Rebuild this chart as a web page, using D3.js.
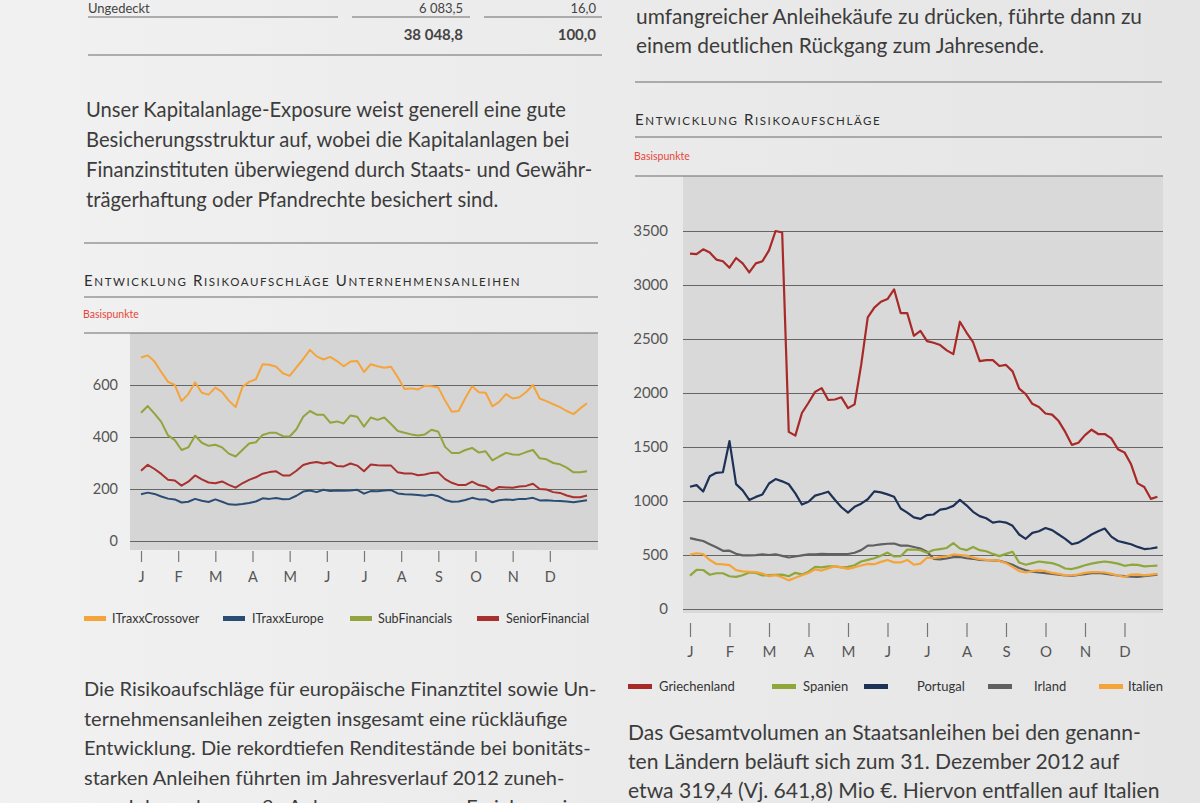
<!DOCTYPE html>
<html>
<head>
<meta charset="utf-8">
<title>Entwicklung Risikoaufschläge</title>
<script src="https://d3js.org/d3.v7.min.js"></script>
<style>
  body { margin: 0; background: #ebebeb; }
  svg { display: block; }
  text { font-family: Lato, "Open Sans", sans-serif; }
</style>
</head>
<body>
<script>

var W = 1200, H = 803;

// Monatsachse (beide Grafiken)
var months = ['J', 'F', 'M', 'A', 'M', 'J', 'J', 'A', 'S', 'O', 'N', 'D'];

// --- Unternehmensanleihen (Basispunkte), 67 Werte ueber 12 Monate
var corpTicks = [0, 200, 400, 600];
var itraxxCrossover = [706,714,690,650,612,600,538,565,610,570,563,590,573,540,515,592,612,622,680,678,
  670,645,635,668,700,735,710,698,708,692,672,690,692,650,680,672,666,670,630,585,
  587,583,597,595,590,540,497,500,550,595,572,570,518,535,565,548,553,573,600,548,
  538,526,515,500,488,510,530];
var itraxxEurope = [180,186,181,171,163,160,148,151,162,155,150,160,151,141,139,142,146,152,164,162,
  165,161,162,174,190,194,188,197,192,194,193,194,197,182,192,191,194,196,183,180,
  179,177,174,178,172,158,151,152,158,166,160,160,149,157,160,158,162,162,166,156,
  157,155,154,152,149,153,157];
var subFinancials = [493,519,490,458,406,388,350,360,405,378,366,370,360,336,325,350,375,380,408,416,
  416,403,402,430,478,500,486,486,455,460,452,483,478,440,475,466,475,450,423,416,
  410,406,410,428,420,362,338,338,350,358,340,345,310,325,339,333,332,342,350,318,
  314,300,295,282,264,264,268];
var seniorFinancial = [270,293,277,258,236,233,213,228,252,237,225,222,229,216,205,222,235,245,259,265,
  268,252,252,270,292,300,304,298,303,288,287,298,290,268,294,291,290,290,264,260,
  260,253,256,262,263,238,224,215,215,228,215,210,193,208,206,205,210,212,220,200,
  198,188,185,175,168,168,175];

// --- Staatsanleihen (Basispunkte), 72 Werte im Abstand von 1/6 Monat
var govTicks = [0, 500, 1000, 1500, 2000, 2500, 3000, 3500];
var griechenland = [3290,3285,3330,3300,3235,3220,3160,3250,3200,3116,3200,3220,3320,3500,3486,1640,1605,1815,1910,2010,
  2045,1935,1940,1960,1860,1895,2260,2700,2790,2845,2870,2960,2740,2740,2530,2575,2480,2465,2444,2395,
  2360,2660,2560,2470,2295,2305,2305,2250,2260,2200,2040,1990,1900,1870,1810,1800,1740,1640,1520,1540,
  1610,1660,1620,1620,1580,1480,1450,1340,1163,1130,1020,1040];
var portugal = [1132,1147,1088,1229,1261,1266,1555,1156,1098,1010,1038,1061,1162,1203,1182,1155,1071,967,993,1050,
  1067,1086,1012,942,893,946,975,1016,1089,1080,1061,1040,931,892,848,834,
  870,875,920,930,955,1010,960,900,860,840,800,810,800,770,690,650,705,720,750,730,
  690,650,600,615,650,690,720,745,670,630,615,600,575,555,560,570];
var irland = [656,642,630,600,571,539,540,511,496,497,498,505,500,507,492,477,486,497,506,507,
  510,509,508,508,509,521,545,587,590,599,604,606,587,588,574,560,
  530,465,460,468,480,482,470,465,455,453,451,445,430,410,380,358,346,338,332,324,
  318,310,306,315,322,332,335,328,318,310,305,300,298,305,312,318];
var spanien = [309,362,361,317,331,331,303,298,313,338,334,311,313,316,318,303,335,320,345,390,
  385,395,395,385,390,405,440,455,470,494,522,486,489,550,551,544,
  520,546,555,565,610,560,545,575,545,535,510,490,510,530,430,410,425,440,432,425,
  405,375,370,385,405,420,432,440,432,420,400,410,408,395,398,402];
var italien = [503,516,508,454,417,414,407,360,348,345,341,329,304,313,294,265,290,313,334,367,
  356,376,397,386,371,386,403,418,415,436,454,432,431,454,410,420,
  475,470,480,488,505,500,495,475,462,455,452,445,425,390,350,338,350,358,350,335,
  325,312,310,320,335,342,342,338,325,310,298,318,320,312,318,325];

var svg = d3.select('body').append('svg')
  .attr('width', W)
  .attr('height', H);

// Papierhintergrund
var grad = svg.append('defs').append('linearGradient')
  .attr('id', 'paper').attr('x1', 0).attr('x2', 1).attr('y1', 0).attr('y2', 0);
grad.append('stop').attr('offset', 0).attr('stop-color', '#f1f1f1');
grad.append('stop').attr('offset', 0.5).attr('stop-color', '#ebebeb');
grad.append('stop').attr('offset', 1).attr('stop-color', '#e5e5e5');
svg.append('rect').attr('width', W).attr('height', H).attr('fill', 'url(#paper)');

function rule(x1, x2, y) {
  svg.append('line')
    .attr('x1', x1).attr('x2', x2).attr('y1', y).attr('y2', y)
    .attr('stroke', '#6a6a6a').attr('stroke-width', 1);
}

function para(lines, x, y0, step, size) {
  var t = svg.append('text')
    .attr('font-size', size)
    .attr('fill', '#3c3c3c');
  lines.forEach(function(s, i) {
    t.append('tspan').attr('x', x).attr('y', y0 + i * step).text(s);
  });
}

function smallCaps(str, x, y) {
  var t = svg.append('text')
    .attr('x', x).attr('y', y)
    .attr('fill', '#2e2e2e')
    .attr('letter-spacing', 1.6);
  str.split(' ').forEach(function(w, k) {
    t.append('tspan').attr('font-size', 15).text((k ? ' ' : '') + w[0]);
    t.append('tspan').attr('font-size', 11.5).text(w.slice(1).toUpperCase());
  });
}

// Linke Spalte: Tabellenende
svg.append('text').attr('x', 88).attr('y', 13).attr('font-size', 13).attr('fill', '#444').text('Ungedeckt');
svg.append('text').attr('x', 463).attr('y', 13).attr('font-size', 13).attr('fill', '#444')
  .attr('text-anchor', 'end').text('6 083,5');
svg.append('text').attr('x', 596).attr('y', 13).attr('font-size', 13).attr('fill', '#444')
  .attr('text-anchor', 'end').text('16,0');
rule(88, 338, 17); rule(352, 470, 17); rule(484, 602, 17);
svg.append('text').attr('x', 463).attr('y', 40).attr('font-size', 15).attr('font-weight', 700)
  .attr('fill', '#444').attr('text-anchor', 'end').text('38 048,8');
svg.append('text').attr('x', 596).attr('y', 40).attr('font-size', 15).attr('font-weight', 700)
  .attr('fill', '#444').attr('text-anchor', 'end').text('100,0');
rule(88, 602, 55);

para(['Unser Kapitalanlage-Exposure weist generell eine gute',
      'Besicherungsstruktur auf, wobei die Kapitalanlagen bei',
      'Finanzinstituten überwiegend durch Staats- und Gewähr-',
      'trägerhaftung oder Pfandrechte besichert sind.'], 86, 117, 30, 20.2);
rule(84, 598, 243);

para(['Die Risikoaufschläge für europäische Finanztitel sowie Un-',
      'ternehmensanleihen zeigten insgesamt eine rückläufige',
      'Entwicklung. Die rekordtiefen Renditestände bei bonitäts-',
      'starken Anleihen führten im Jahresverlauf 2012 zuneh-',
      'mend dazu, dass große Anlegergruppen zur Erzielung einer'], 84, 696, 29.5, 20);

// Rechte Spalte
para(['umfangreicher Anleihekäufe zu drücken, führte dann zu',
      'einem deutlichen Rückgang zum Jahresende.'], 636, 24, 29, 20.9);
rule(635, 1162, 82);

para(['Das Gesamtvolumen an Staatsanleihen bei den genann-',
      'ten Ländern beläuft sich zum 31. Dezember 2012 auf',
      'etwa 319,4 (Vj. 641,8) Mio €. Hiervon entfallen auf Italien'], 628, 740, 29, 21.1);

// Diagramm zeichnen
function drawChart(c) {
  svg.append('rect')
    .attr('x', c.plot[0]).attr('y', c.plot[2])
    .attr('width', c.plot[1] - c.plot[0]).attr('height', c.plot[3] - c.plot[2])
    .attr('fill', c.bg);
  rule(c.ruleX, c.plot[1], c.plot[2]);

  var x = d3.scaleLinear().domain([0, 12]).range(c.xRange);
  var y = d3.scaleLinear().domain(c.yDomain).range(c.yRange);

  var gy = svg.append('g')
    .attr('transform', 'translate(' + c.plot[0] + ',0)')
    .call(d3.axisLeft(y).tickValues(c.yTicks).tickFormat(d3.format('d'))
      .tickSize(-(c.plot[1] - c.plot[0])).tickPadding(c.pad));
  gy.select('.domain').remove();
  gy.selectAll('line').attr('stroke', '#666').attr('stroke-width', 1.1);
  gy.selectAll('text').attr('font-size', c.tickFont).attr('fill', '#555')
    .attr('font-family', 'Lato, sans-serif');

  var gx = svg.append('g')
    .attr('transform', 'translate(0,' + c.tickTop + ')')
    .call(d3.axisBottom(x).tickValues(d3.range(12))
      .tickFormat(function(i) { return months[i]; })
      .tickSize(c.tickLen).tickPadding(c.tickPad));
  gx.select('.domain').remove();
  gx.selectAll('line').attr('stroke', '#777').attr('stroke-width', 1.2);
  gx.selectAll('text').attr('font-size', c.tickFont).attr('fill', '#555')
    .attr('font-family', 'Lato, sans-serif');

  c.series.forEach(function(s) {
    var line = d3.line()
      .x(function(d, i) { return x(i * c.step); })
      .y(function(d) { return y(d); });
    svg.append('path')
      .datum(s.values)
      .attr('d', line)
      .attr('fill', 'none')
      .attr('stroke', s.color)
      .attr('stroke-width', c.lw)
      .attr('stroke-linejoin', 'round');
  });

  c.legend.forEach(function(s) {
    svg.append('rect')
      .attr('x', s.lx).attr('y', c.legendY - 3)
      .attr('width', c.swatch).attr('height', 5)
      .attr('fill', s.color);
    svg.append('text')
      .attr('x', s.tx).attr('y', c.legendY + 4)
      .attr('font-size', c.legendFont)
      .attr('fill', '#333')
      .text(s.name);
  });
}

// Linkes Diagramm
smallCaps('Entwicklung Risikoaufschläge Unternehmensanleihen', 84, 286);
rule(84, 598, 297);
svg.append('text').attr('x', 83).attr('y', 318).attr('font-size', 10.5)
  .attr('fill', '#e8463a').text('Basispunkte');

var orange = '#f5a43c', navy = '#2c4d73', olive = '#93a33d', darkred = '#a8302e';
var corpSeries = [
  { name: 'ITraxxCrossover', values: itraxxCrossover, color: orange, lx: 84, tx: 112 },
  { name: 'ITraxxEurope', values: itraxxEurope, color: navy, lx: 223, tx: 252 },
  { name: 'SubFinancials', values: subFinancials, color: olive, lx: 350, tx: 378 },
  { name: 'SeniorFinancial', values: seniorFinancial, color: darkred, lx: 477, tx: 506 }
];
drawChart({
  plot: [130, 598, 333, 550], ruleX: 84, bg: '#d5d5d5',
  xRange: [141, 587], yDomain: [0, 600], yRange: [541, 385], yTicks: corpTicks,
  pad: 12, tickFont: 14.5, tickTop: 551, tickLen: 11, tickPad: 10,
  step: 12 / 66, lw: 2, series: corpSeries, legend: corpSeries,
  legendY: 619, swatch: 22, legendFont: 12.5
});

// Rechtes Diagramm
smallCaps('Entwicklung Risikoaufschläge', 635, 125);
rule(635, 1162, 137);
svg.append('text').attr('x', 634).attr('y', 160).attr('font-size', 10.5)
  .attr('fill', '#e8463a').text('Basispunkte');

var govLegend = [
  { name: 'Griechenland', values: griechenland, color: '#a82a28', lx: 628, tx: 659 },
  { name: 'Spanien', values: spanien, color: '#8fa63a', lx: 772, tx: 803 },
  { name: 'Portugal', values: portugal, color: '#1d3256', lx: 864, tx: 917 },
  { name: 'Irland', values: irland, color: '#606060', lx: 988, tx: 1034 },
  { name: 'Italien', values: italien, color: '#f5a43a', lx: 1099, tx: 1128 }
];
drawChart({
  plot: [683, 1163, 176, 613], ruleX: 635, bg: '#d9d9d9',
  xRange: [690, 1164], yDomain: [0, 3500], yRange: [609, 231], yTicks: govTicks,
  pad: 15, tickFont: 15, tickTop: 623, tickLen: 14, tickPad: 9,
  step: 1 / 6, lw: 2.2,
  series: [govLegend[3], govLegend[1], govLegend[4], govLegend[2], govLegend[0]],
  legend: govLegend,
  legendY: 687, swatch: 24, legendFont: 13
});

</script>
</body>
</html>
